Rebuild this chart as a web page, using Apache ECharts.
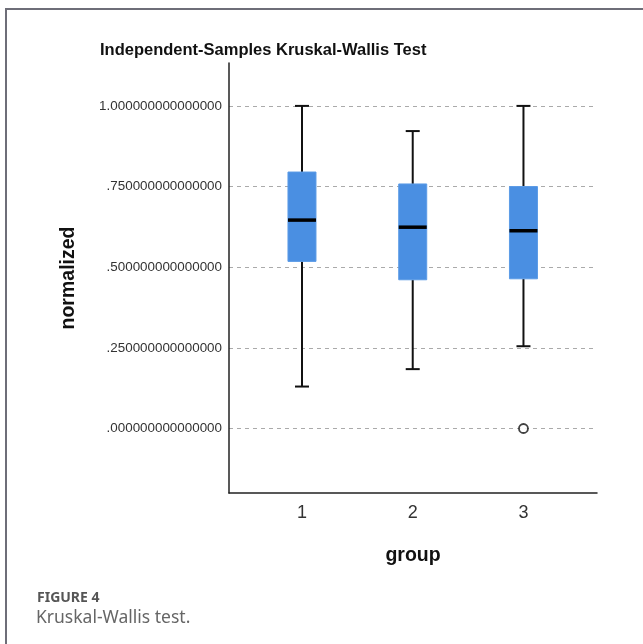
<!DOCTYPE html>
<html><head><meta charset="utf-8">
<script src="https://cdn.jsdelivr.net/npm/echarts@6/dist/echarts.min.js"></script>
<style>html,body{margin:0;padding:0;background:#fff}#c{width:643px;height:644px}</style>
</head><body><div id="c"></div>
<script>
// ---- data ----
const groups = [1, 2, 3];
const minVals = [0.130, 0.184, 0.255];
const q1Vals = [0.518, 0.461, 0.464];
const medianVals = [0.646, 0.624, 0.613];
const q3Vals = [0.795, 0.758, 0.750];
const maxVals = [1.000, 0.922, 1.000];
const outlierGroups = [3];
const outlierVals = [0.0];
const yTicks = [0, 0.25, 0.5, 0.75, 1];
const xTicks = [1, 2, 3];

const boxData = groups.map((g, i) => [g, minVals[i], q1Vals[i], medianVals[i], q3Vals[i], maxVals[i]]);
const outlierData = outlierGroups.map((g, i) => [g, outlierVals[i]]);

const chart = echarts.init(document.getElementById('c'));
const BOX_W = 28, CAP_W = 14;

function renderBox(params, api) {
  const x = api.value(0);
  const pMin = api.coord([x, api.value(1)]);
  const pQ1 = api.coord([x, api.value(2)]);
  const pMed = api.coord([x, api.value(3)]);
  const pQ3 = api.coord([x, api.value(4)]);
  const pMax = api.coord([x, api.value(5)]);
  const cx = pMed[0];
  const lineStyle = { stroke: '#111', lineWidth: 2, fill: null };
  return {
    type: 'group',
    children: [
      { type: 'line', shape: { x1: cx, y1: pMax[1], x2: cx, y2: pQ3[1] }, style: lineStyle },
      { type: 'line', shape: { x1: cx, y1: pQ1[1], x2: cx, y2: pMin[1] }, style: lineStyle },
      { type: 'line', shape: { x1: cx - CAP_W / 2, y1: pMax[1], x2: cx + CAP_W / 2, y2: pMax[1] }, style: lineStyle },
      { type: 'line', shape: { x1: cx - CAP_W / 2, y1: pMin[1], x2: cx + CAP_W / 2, y2: pMin[1] }, style: lineStyle },
      { type: 'rect', shape: { x: cx - BOX_W / 2, y: pQ3[1], width: BOX_W, height: pQ1[1] - pQ3[1] },
        style: { fill: '#4a8fe2', stroke: '#5b9be6', lineWidth: 1 } },
      { type: 'line', shape: { x1: cx - BOX_W / 2, y1: pMed[1], x2: cx + BOX_W / 2, y2: pMed[1] },
        style: { stroke: '#000', lineWidth: 3.5 } }
    ]
  };
}

const option = {
  animation: false,
  backgroundColor: '#fff',
  title: {
    text: 'Independent-Samples Kruskal-Wallis Test',
    left: 95, top: 37,
    textStyle: { fontFamily: 'Liberation Sans, Arial, sans-serif', fontSize: 16.5, fontWeight: 'bold', color: '#111' }
  },
  grid: { left: 229, top: 63, right: 46, bottom: 151, containLabel: false },
  xAxis: {
    type: 'value', min: 0.341, max: 3.664,
    name: 'group', nameLocation: 'middle', nameGap: 53,
    nameTextStyle: { fontFamily: 'Liberation Sans, Arial, sans-serif', fontSize: 19.5, fontWeight: 'bold', color: '#111' },
    axisLine: { show: true, onZero: false, lineStyle: { color: '#222', width: 1.5 } },
    axisTick: { show: false, customValues: xTicks },
    axisLabel: { customValues: xTicks, margin: 11, fontFamily: 'Liberation Sans, Arial, sans-serif', fontSize: 18, color: '#333' },
    splitLine: { show: false }
  },
  yAxis: {
    type: 'value', min: -0.2, max: 1.133,
    name: 'normalized', nameLocation: 'middle', nameGap: 150, nameRotate: 90,
    nameTextStyle: { fontFamily: 'Liberation Sans, Arial, sans-serif', fontSize: 19.5, fontWeight: 'bold', color: '#111' },
    axisLine: { show: true, onZero: false, lineStyle: { color: '#222', width: 1.5 } },
    axisTick: { show: false, customValues: yTicks },
    axisLabel: {
      customValues: yTicks, margin: 7,
      fontFamily: 'Liberation Sans, Arial, sans-serif', fontSize: 13.4, color: '#333',
      formatter: v => (v >= 1 ? v.toFixed(15) : v.toFixed(15).replace(/^0/, ''))
    },
    splitLine: { show: true, lineStyle: { color: '#aaa', type: [4, 4], width: 1 } }
  },
  series: [
    {
      type: 'custom', renderItem: renderBox, data: boxData,
      encode: { x: 0, y: [1, 2, 3, 4, 5] }, z: 3
    },
    {
      type: 'scatter', data: outlierData, symbol: 'circle', symbolSize: 9,
      itemStyle: { color: '#fff', borderColor: '#111', borderWidth: 1.8 }, z: 4
    }
  ],
  graphic: [
    { type: 'polyline', shape: { points: [[6, 644], [6, 9], [643, 9]] },
      style: { stroke: '#6e6e78', lineWidth: 2, fill: null }, silent: true },
    { type: 'text', left: 37, top: 591,
      style: { text: 'FIGURE 4', font: 'bold 14px "Noto Sans", "Open Sans", sans-serif', fill: '#555' } },
    { type: 'text', left: 36, top: 609,
      style: { text: 'Kruskal-Wallis test.', font: '17.5px "Noto Sans", "Open Sans", sans-serif', fill: '#666' } }
  ]
};
chart.setOption(option);
</script>
</body></html>
